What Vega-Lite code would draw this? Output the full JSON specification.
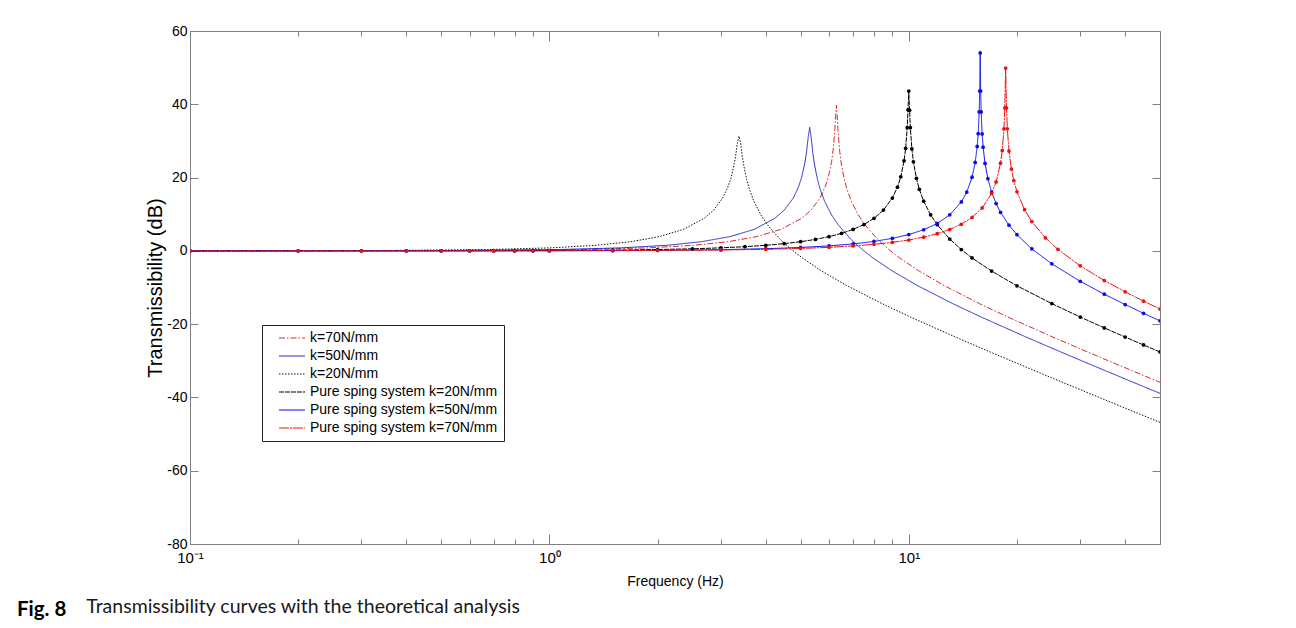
{
  "$schema": "https://vega.github.io/schema/vega-lite/v6.json",
  "autosize": {"type": "none"},
  "width": 970,
  "height": 513,
  "padding": {"left": 190, "top": 31, "right": 136, "bottom": 84},
  "background": "white",
  "config": {
    "view": {"stroke": "#808080", "strokeWidth": 1},
    "font": "Liberation Sans"
  },
  "title": {
    "text": "Fig. 8",
    "subtitle": "\u200b\u00a0\u00a0\u00a0\u00a0\u00a0\u00a0\u00a0\u00a0\u00a0\u00a0\u00a0\u00a0\u00a0\u00a0Transmissibility curves with the theoretical analysis",
    "orient": "bottom",
    "anchor": "start",
    "frame": "group",
    "dx": -173,
    "offset": 12,
    "font": "Lato",
    "fontSize": 20.5,
    "fontWeight": "bold",
    "color": "#000000",
    "subtitleFont": "Lato",
    "subtitleFontSize": 19.5,
    "subtitleFontWeight": "normal",
    "subtitleColor": "#1a1a1a",
    "subtitlePadding": -22.3
  },
  "data": {
    "values": [
      {"s": "k=70N/mm", "f": 0.1, "db": 0.0},
      {"s": "k=70N/mm", "f": 0.629, "db": 0.09},
      {"s": "k=70N/mm", "f": 1.258, "db": 0.36},
      {"s": "k=70N/mm", "f": 1.887, "db": 0.82},
      {"s": "k=70N/mm", "f": 2.516, "db": 1.51},
      {"s": "k=70N/mm", "f": 3.145, "db": 2.5},
      {"s": "k=70N/mm", "f": 3.774, "db": 3.88},
      {"s": "k=70N/mm", "f": 4.403, "db": 5.85},
      {"s": "k=70N/mm", "f": 5.032, "db": 8.87},
      {"s": "k=70N/mm", "f": 5.347, "db": 11.13},
      {"s": "k=70N/mm", "f": 5.661, "db": 14.4},
      {"s": "k=70N/mm", "f": 5.85, "db": 17.39},
      {"s": "k=70N/mm", "f": 5.976, "db": 20.2},
      {"s": "k=70N/mm", "f": 6.101, "db": 24.45},
      {"s": "k=70N/mm", "f": 6.164, "db": 27.8},
      {"s": "k=70N/mm", "f": 6.227, "db": 33.0},
      {"s": "k=70N/mm", "f": 6.259, "db": 36.9},
      {"s": "k=70N/mm", "f": 6.29, "db": 39.7},
      {"s": "k=70N/mm", "f": 6.321, "db": 36.8},
      {"s": "k=70N/mm", "f": 6.353, "db": 32.9},
      {"s": "k=70N/mm", "f": 6.416, "db": 27.6},
      {"s": "k=70N/mm", "f": 6.479, "db": 24.2},
      {"s": "k=70N/mm", "f": 6.605, "db": 19.75},
      {"s": "k=70N/mm", "f": 6.73, "db": 16.77},
      {"s": "k=70N/mm", "f": 6.919, "db": 13.56},
      {"s": "k=70N/mm", "f": 7.234, "db": 9.83},
      {"s": "k=70N/mm", "f": 7.548, "db": 7.13},
      {"s": "k=70N/mm", "f": 8.177, "db": 3.22},
      {"s": "k=70N/mm", "f": 8.806, "db": 0.36},
      {"s": "k=70N/mm", "f": 9.435, "db": -1.94},
      {"s": "k=70N/mm", "f": 10.69, "db": -5.53},
      {"s": "k=70N/mm", "f": 12.58, "db": -9.54},
      {"s": "k=70N/mm", "f": 15.73, "db": -14.4},
      {"s": "k=70N/mm", "f": 18.87, "db": -18.06},
      {"s": "k=70N/mm", "f": 25.16, "db": -23.52},
      {"s": "k=70N/mm", "f": 31.45, "db": -27.6},
      {"s": "k=70N/mm", "f": 37.74, "db": -30.88},
      {"s": "k=70N/mm", "f": 50, "db": -35.87},

      {"s": "k=50N/mm", "f": 0.1, "db": 0.0},
      {"s": "k=50N/mm", "f": 0.53, "db": 0.09},
      {"s": "k=50N/mm", "f": 1.06, "db": 0.36},
      {"s": "k=50N/mm", "f": 1.59, "db": 0.82},
      {"s": "k=50N/mm", "f": 2.12, "db": 1.51},
      {"s": "k=50N/mm", "f": 2.65, "db": 2.5},
      {"s": "k=50N/mm", "f": 3.18, "db": 3.88},
      {"s": "k=50N/mm", "f": 3.71, "db": 5.85},
      {"s": "k=50N/mm", "f": 4.24, "db": 8.87},
      {"s": "k=50N/mm", "f": 4.505, "db": 11.13},
      {"s": "k=50N/mm", "f": 4.77, "db": 14.4},
      {"s": "k=50N/mm", "f": 4.929, "db": 17.35},
      {"s": "k=50N/mm", "f": 5.035, "db": 20.1},
      {"s": "k=50N/mm", "f": 5.141, "db": 24.1},
      {"s": "k=50N/mm", "f": 5.194, "db": 27.0},
      {"s": "k=50N/mm", "f": 5.247, "db": 30.9},
      {"s": "k=50N/mm", "f": 5.3, "db": 33.7},
      {"s": "k=50N/mm", "f": 5.353, "db": 30.75},
      {"s": "k=50N/mm", "f": 5.406, "db": 26.8},
      {"s": "k=50N/mm", "f": 5.459, "db": 23.8},
      {"s": "k=50N/mm", "f": 5.565, "db": 19.7},
      {"s": "k=50N/mm", "f": 5.671, "db": 16.75},
      {"s": "k=50N/mm", "f": 5.83, "db": 13.55},
      {"s": "k=50N/mm", "f": 6.095, "db": 9.83},
      {"s": "k=50N/mm", "f": 6.36, "db": 7.13},
      {"s": "k=50N/mm", "f": 6.89, "db": 3.22},
      {"s": "k=50N/mm", "f": 7.42, "db": 0.36},
      {"s": "k=50N/mm", "f": 7.95, "db": -1.94},
      {"s": "k=50N/mm", "f": 9.01, "db": -5.53},
      {"s": "k=50N/mm", "f": 10.6, "db": -9.54},
      {"s": "k=50N/mm", "f": 13.25, "db": -14.4},
      {"s": "k=50N/mm", "f": 15.9, "db": -18.06},
      {"s": "k=50N/mm", "f": 21.2, "db": -23.52},
      {"s": "k=50N/mm", "f": 26.5, "db": -27.6},
      {"s": "k=50N/mm", "f": 31.8, "db": -30.88},
      {"s": "k=50N/mm", "f": 42.4, "db": -35.99},
      {"s": "k=50N/mm", "f": 50, "db": -38.89},

      {"s": "k=20N/mm", "f": 0.1, "db": 0.01},
      {"s": "k=20N/mm", "f": 0.337, "db": 0.09},
      {"s": "k=20N/mm", "f": 0.674, "db": 0.36},
      {"s": "k=20N/mm", "f": 1.011, "db": 0.82},
      {"s": "k=20N/mm", "f": 1.348, "db": 1.51},
      {"s": "k=20N/mm", "f": 1.685, "db": 2.5},
      {"s": "k=20N/mm", "f": 2.022, "db": 3.88},
      {"s": "k=20N/mm", "f": 2.359, "db": 5.85},
      {"s": "k=20N/mm", "f": 2.696, "db": 8.87},
      {"s": "k=20N/mm", "f": 2.865, "db": 11.13},
      {"s": "k=20N/mm", "f": 3.033, "db": 14.4},
      {"s": "k=20N/mm", "f": 3.134, "db": 17.3},
      {"s": "k=20N/mm", "f": 3.202, "db": 19.9},
      {"s": "k=20N/mm", "f": 3.269, "db": 23.8},
      {"s": "k=20N/mm", "f": 3.303, "db": 26.4},
      {"s": "k=20N/mm", "f": 3.336, "db": 29.5},
      {"s": "k=20N/mm", "f": 3.37, "db": 31.3},
      {"s": "k=20N/mm", "f": 3.404, "db": 29.4},
      {"s": "k=20N/mm", "f": 3.437, "db": 26.2},
      {"s": "k=20N/mm", "f": 3.471, "db": 23.5},
      {"s": "k=20N/mm", "f": 3.539, "db": 19.5},
      {"s": "k=20N/mm", "f": 3.606, "db": 16.7},
      {"s": "k=20N/mm", "f": 3.707, "db": 13.5},
      {"s": "k=20N/mm", "f": 3.876, "db": 9.8},
      {"s": "k=20N/mm", "f": 4.044, "db": 7.1},
      {"s": "k=20N/mm", "f": 4.381, "db": 3.2},
      {"s": "k=20N/mm", "f": 4.718, "db": 0.36},
      {"s": "k=20N/mm", "f": 5.055, "db": -1.94},
      {"s": "k=20N/mm", "f": 5.729, "db": -5.53},
      {"s": "k=20N/mm", "f": 6.74, "db": -9.54},
      {"s": "k=20N/mm", "f": 8.425, "db": -14.4},
      {"s": "k=20N/mm", "f": 10.11, "db": -18.06},
      {"s": "k=20N/mm", "f": 13.48, "db": -23.52},
      {"s": "k=20N/mm", "f": 16.85, "db": -27.6},
      {"s": "k=20N/mm", "f": 20.22, "db": -30.88},
      {"s": "k=20N/mm", "f": 26.96, "db": -35.99},
      {"s": "k=20N/mm", "f": 33.7, "db": -39.91},
      {"s": "k=20N/mm", "f": 40.44, "db": -43.11},
      {"s": "k=20N/mm", "f": 50, "db": -46.81},

      {"s": "Pure sping system k=20N/mm", "f": 0.1, "db": 0.0},
      {"s": "Pure sping system k=20N/mm", "f": 0.2, "db": 0.0},
      {"s": "Pure sping system k=20N/mm", "f": 0.3, "db": 0.01},
      {"s": "Pure sping system k=20N/mm", "f": 0.4, "db": 0.01},
      {"s": "Pure sping system k=20N/mm", "f": 0.5, "db": 0.02},
      {"s": "Pure sping system k=20N/mm", "f": 0.6, "db": 0.03},
      {"s": "Pure sping system k=20N/mm", "f": 0.7, "db": 0.04},
      {"s": "Pure sping system k=20N/mm", "f": 0.8, "db": 0.06},
      {"s": "Pure sping system k=20N/mm", "f": 0.9, "db": 0.07},
      {"s": "Pure sping system k=20N/mm", "f": 1.0, "db": 0.09},
      {"s": "Pure sping system k=20N/mm", "f": 1.5, "db": 0.2},
      {"s": "Pure sping system k=20N/mm", "f": 2.0, "db": 0.36},
      {"s": "Pure sping system k=20N/mm", "f": 2.5, "db": 0.56},
      {"s": "Pure sping system k=20N/mm", "f": 3.0, "db": 0.82},
      {"s": "Pure sping system k=20N/mm", "f": 3.5, "db": 1.14},
      {"s": "Pure sping system k=20N/mm", "f": 4.0, "db": 1.51},
      {"s": "Pure sping system k=20N/mm", "f": 4.5, "db": 1.97},
      {"s": "Pure sping system k=20N/mm", "f": 5.0, "db": 2.5},
      {"s": "Pure sping system k=20N/mm", "f": 5.5, "db": 3.13},
      {"s": "Pure sping system k=20N/mm", "f": 6.0, "db": 3.88},
      {"s": "Pure sping system k=20N/mm", "f": 6.5, "db": 4.77},
      {"s": "Pure sping system k=20N/mm", "f": 7.0, "db": 5.85},
      {"s": "Pure sping system k=20N/mm", "f": 7.5, "db": 7.18},
      {"s": "Pure sping system k=20N/mm", "f": 8.0, "db": 8.87},
      {"s": "Pure sping system k=20N/mm", "f": 8.5, "db": 11.13},
      {"s": "Pure sping system k=20N/mm", "f": 9.0, "db": 14.42},
      {"s": "Pure sping system k=20N/mm", "f": 9.3, "db": 17.39},
      {"s": "Pure sping system k=20N/mm", "f": 9.5, "db": 20.22},
      {"s": "Pure sping system k=20N/mm", "f": 9.7, "db": 24.57},
      {"s": "Pure sping system k=20N/mm", "f": 9.8, "db": 28.0},
      {"s": "Pure sping system k=20N/mm", "f": 9.9, "db": 33.6},
      {"s": "Pure sping system k=20N/mm", "f": 9.95, "db": 38.5},
      {"s": "Pure sping system k=20N/mm", "f": 10.0, "db": 43.6},
      {"s": "Pure sping system k=20N/mm", "f": 10.05, "db": 38.4},
      {"s": "Pure sping system k=20N/mm", "f": 10.1, "db": 33.6},
      {"s": "Pure sping system k=20N/mm", "f": 10.2, "db": 27.8},
      {"s": "Pure sping system k=20N/mm", "f": 10.3, "db": 24.3},
      {"s": "Pure sping system k=20N/mm", "f": 10.5, "db": 19.79},
      {"s": "Pure sping system k=20N/mm", "f": 10.7, "db": 16.78},
      {"s": "Pure sping system k=20N/mm", "f": 11.0, "db": 13.56},
      {"s": "Pure sping system k=20N/mm", "f": 11.5, "db": 9.83},
      {"s": "Pure sping system k=20N/mm", "f": 12.0, "db": 7.13},
      {"s": "Pure sping system k=20N/mm", "f": 13.0, "db": 3.22},
      {"s": "Pure sping system k=20N/mm", "f": 14.0, "db": 0.36},
      {"s": "Pure sping system k=20N/mm", "f": 15.0, "db": -1.94},
      {"s": "Pure sping system k=20N/mm", "f": 17.0, "db": -5.53},
      {"s": "Pure sping system k=20N/mm", "f": 20.0, "db": -9.54},
      {"s": "Pure sping system k=20N/mm", "f": 25.0, "db": -14.4},
      {"s": "Pure sping system k=20N/mm", "f": 30.0, "db": -18.06},
      {"s": "Pure sping system k=20N/mm", "f": 35.0, "db": -21.02},
      {"s": "Pure sping system k=20N/mm", "f": 40.0, "db": -23.52},
      {"s": "Pure sping system k=20N/mm", "f": 45.0, "db": -25.69},
      {"s": "Pure sping system k=20N/mm", "f": 50.0, "db": -27.6},

      {"s": "Pure sping system k=50N/mm", "f": 0.1, "db": 0.0},
      {"s": "Pure sping system k=50N/mm", "f": 0.2, "db": 0.0},
      {"s": "Pure sping system k=50N/mm", "f": 0.3, "db": 0.0},
      {"s": "Pure sping system k=50N/mm", "f": 0.4, "db": 0.01},
      {"s": "Pure sping system k=50N/mm", "f": 0.5, "db": 0.01},
      {"s": "Pure sping system k=50N/mm", "f": 0.6, "db": 0.01},
      {"s": "Pure sping system k=50N/mm", "f": 0.7, "db": 0.02},
      {"s": "Pure sping system k=50N/mm", "f": 0.8, "db": 0.02},
      {"s": "Pure sping system k=50N/mm", "f": 0.9, "db": 0.03},
      {"s": "Pure sping system k=50N/mm", "f": 1.0, "db": 0.03},
      {"s": "Pure sping system k=50N/mm", "f": 1.5, "db": 0.08},
      {"s": "Pure sping system k=50N/mm", "f": 2.0, "db": 0.14},
      {"s": "Pure sping system k=50N/mm", "f": 3.0, "db": 0.32},
      {"s": "Pure sping system k=50N/mm", "f": 4.0, "db": 0.58},
      {"s": "Pure sping system k=50N/mm", "f": 5.0, "db": 0.92},
      {"s": "Pure sping system k=50N/mm", "f": 6.0, "db": 1.35},
      {"s": "Pure sping system k=50N/mm", "f": 7.0, "db": 1.9},
      {"s": "Pure sping system k=50N/mm", "f": 8.0, "db": 2.57},
      {"s": "Pure sping system k=50N/mm", "f": 9.0, "db": 3.41},
      {"s": "Pure sping system k=50N/mm", "f": 10.0, "db": 4.45},
      {"s": "Pure sping system k=50N/mm", "f": 11.0, "db": 5.76},
      {"s": "Pure sping system k=50N/mm", "f": 12.0, "db": 7.47},
      {"s": "Pure sping system k=50N/mm", "f": 13.0, "db": 9.82},
      {"s": "Pure sping system k=50N/mm", "f": 14.0, "db": 13.36},
      {"s": "Pure sping system k=50N/mm", "f": 14.5, "db": 16.04},
      {"s": "Pure sping system k=50N/mm", "f": 15.0, "db": 20.11},
      {"s": "Pure sping system k=50N/mm", "f": 15.3, "db": 24.12},
      {"s": "Pure sping system k=50N/mm", "f": 15.5, "db": 28.5},
      {"s": "Pure sping system k=50N/mm", "f": 15.6, "db": 31.97},
      {"s": "Pure sping system k=50N/mm", "f": 15.7, "db": 37.9},
      {"s": "Pure sping system k=50N/mm", "f": 15.75, "db": 43.6},
      {"s": "Pure sping system k=50N/mm", "f": 15.8, "db": 54.0},
      {"s": "Pure sping system k=50N/mm", "f": 15.85, "db": 43.6},
      {"s": "Pure sping system k=50N/mm", "f": 15.9, "db": 37.9},
      {"s": "Pure sping system k=50N/mm", "f": 16.0, "db": 31.9},
      {"s": "Pure sping system k=50N/mm", "f": 16.1, "db": 28.3},
      {"s": "Pure sping system k=50N/mm", "f": 16.3, "db": 23.85},
      {"s": "Pure sping system k=50N/mm", "f": 16.6, "db": 19.68},
      {"s": "Pure sping system k=50N/mm", "f": 17.0, "db": 16.04},
      {"s": "Pure sping system k=50N/mm", "f": 17.5, "db": 12.89},
      {"s": "Pure sping system k=50N/mm", "f": 18.0, "db": 10.52},
      {"s": "Pure sping system k=50N/mm", "f": 19.0, "db": 7.01},
      {"s": "Pure sping system k=50N/mm", "f": 20.0, "db": 4.4},
      {"s": "Pure sping system k=50N/mm", "f": 22.0, "db": 0.55},
      {"s": "Pure sping system k=50N/mm", "f": 25.0, "db": -3.54},
      {"s": "Pure sping system k=50N/mm", "f": 30.0, "db": -8.32},
      {"s": "Pure sping system k=50N/mm", "f": 35.0, "db": -11.84},
      {"s": "Pure sping system k=50N/mm", "f": 40.0, "db": -14.66},
      {"s": "Pure sping system k=50N/mm", "f": 45.0, "db": -17.04},
      {"s": "Pure sping system k=50N/mm", "f": 50.0, "db": -19.1},

      {"s": "Pure sping system k=70N/mm", "f": 0.1, "db": 0.0},
      {"s": "Pure sping system k=70N/mm", "f": 0.2, "db": 0.0},
      {"s": "Pure sping system k=70N/mm", "f": 0.3, "db": 0.0},
      {"s": "Pure sping system k=70N/mm", "f": 0.4, "db": 0.0},
      {"s": "Pure sping system k=70N/mm", "f": 0.5, "db": 0.01},
      {"s": "Pure sping system k=70N/mm", "f": 0.6, "db": 0.01},
      {"s": "Pure sping system k=70N/mm", "f": 0.7, "db": 0.01},
      {"s": "Pure sping system k=70N/mm", "f": 0.8, "db": 0.02},
      {"s": "Pure sping system k=70N/mm", "f": 0.9, "db": 0.02},
      {"s": "Pure sping system k=70N/mm", "f": 1.0, "db": 0.03},
      {"s": "Pure sping system k=70N/mm", "f": 1.5, "db": 0.06},
      {"s": "Pure sping system k=70N/mm", "f": 2.0, "db": 0.1},
      {"s": "Pure sping system k=70N/mm", "f": 3.0, "db": 0.23},
      {"s": "Pure sping system k=70N/mm", "f": 4.0, "db": 0.41},
      {"s": "Pure sping system k=70N/mm", "f": 5.0, "db": 0.65},
      {"s": "Pure sping system k=70N/mm", "f": 6.0, "db": 0.96},
      {"s": "Pure sping system k=70N/mm", "f": 7.0, "db": 1.33},
      {"s": "Pure sping system k=70N/mm", "f": 8.0, "db": 1.78},
      {"s": "Pure sping system k=70N/mm", "f": 9.0, "db": 2.32},
      {"s": "Pure sping system k=70N/mm", "f": 10.0, "db": 2.96},
      {"s": "Pure sping system k=70N/mm", "f": 11.0, "db": 3.74},
      {"s": "Pure sping system k=70N/mm", "f": 12.0, "db": 4.68},
      {"s": "Pure sping system k=70N/mm", "f": 13.0, "db": 5.82},
      {"s": "Pure sping system k=70N/mm", "f": 14.0, "db": 7.26},
      {"s": "Pure sping system k=70N/mm", "f": 15.0, "db": 9.13},
      {"s": "Pure sping system k=70N/mm", "f": 16.0, "db": 11.7},
      {"s": "Pure sping system k=70N/mm", "f": 17.0, "db": 15.67},
      {"s": "Pure sping system k=70N/mm", "f": 17.5, "db": 18.8},
      {"s": "Pure sping system k=70N/mm", "f": 18.0, "db": 23.94},
      {"s": "Pure sping system k=70N/mm", "f": 18.2, "db": 27.42},
      {"s": "Pure sping system k=70N/mm", "f": 18.4, "db": 33.3},
      {"s": "Pure sping system k=70N/mm", "f": 18.5, "db": 39.0},
      {"s": "Pure sping system k=70N/mm", "f": 18.6, "db": 49.9},
      {"s": "Pure sping system k=70N/mm", "f": 18.7, "db": 39.0},
      {"s": "Pure sping system k=70N/mm", "f": 18.8, "db": 33.3},
      {"s": "Pure sping system k=70N/mm", "f": 19.0, "db": 27.24},
      {"s": "Pure sping system k=70N/mm", "f": 19.3, "db": 22.31},
      {"s": "Pure sping system k=70N/mm", "f": 19.6, "db": 19.14},
      {"s": "Pure sping system k=70N/mm", "f": 20.0, "db": 16.13},
      {"s": "Pure sping system k=70N/mm", "f": 21.0, "db": 11.22},
      {"s": "Pure sping system k=70N/mm", "f": 22.0, "db": 7.98},
      {"s": "Pure sping system k=70N/mm", "f": 24.0, "db": 3.54},
      {"s": "Pure sping system k=70N/mm", "f": 26.0, "db": 0.41},
      {"s": "Pure sping system k=70N/mm", "f": 30.0, "db": -4.09},
      {"s": "Pure sping system k=70N/mm", "f": 35.0, "db": -8.1},
      {"s": "Pure sping system k=70N/mm", "f": 40.0, "db": -11.19},
      {"s": "Pure sping system k=70N/mm", "f": 45.0, "db": -13.72},
      {"s": "Pure sping system k=70N/mm", "f": 50.0, "db": -15.88}
    ]
  },
  "layer": [
    {
      "mark": {"type": "line", "clip": true},
      "encoding": {
        "x": {
          "field": "f", "type": "quantitative",
          "scale": {"type": "log", "domain": [0.1, 50]},
          "axis": {
            "orient": "bottom",
            "values": [0.1, 0.2, 0.3, 0.4, 0.5, 0.6, 0.7, 0.8, 0.9, 1, 2, 3, 4, 5, 6, 7, 8, 9, 10, 20, 30, 40],
            "labelExpr": "datum.value == 0.1 ? '10⁻¹' : datum.value == 1 ? '10⁰' : datum.value == 10 ? '10¹' : ''",
            "tickSize": {"condition": {"test": "datum.value == 0.1 || datum.value == 1 || datum.value == 10", "value": -10}, "value": -5},
            "labelPadding": 16,
            "labelFlush": false,
            "labelOverlap": false,
            "grid": false,
            "domainColor": "#808080",
            "tickColor": "#808080",
            "labelFont": "Liberation Sans",
            "labelFontSize": 15,
            "labelColor": "#000000",
            "title": "Frequency (Hz)",
            "titleFont": "Liberation Sans",
            "titleFontSize": 14,
            "titleFontWeight": "normal",
            "titleColor": "#000000",
            "titlePadding": 4
          }
        },
        "y": {
          "field": "db", "type": "quantitative",
          "scale": {"domain": [-80, 60], "nice": false, "zero": false},
          "axis": {
            "orient": "left",
            "values": [-80, -60, -40, -20, 0, 20, 40, 60],
            "labelExpr": "datum.value + ''",
            "tickSize": -8,
            "labelPadding": 11,
            "grid": false,
            "domainColor": "#808080",
            "tickColor": "#808080",
            "labelFont": "Liberation Sans",
            "labelFontSize": 14,
            "labelColor": "#000000",
            "title": "Transmissibility (dB)",
            "titleFont": "Liberation Sans",
            "titleFontSize": 20,
            "titleFontWeight": "normal",
            "titleColor": "#000000",
            "titlePadding": 1
          }
        },
        "color": {
          "field": "s", "type": "nominal",
          "scale": {
            "domain": ["k=70N/mm", "k=50N/mm", "k=20N/mm", "Pure sping system k=20N/mm", "Pure sping system k=50N/mm", "Pure sping system k=70N/mm"],
            "range": ["#d42a2a", "#2b2bc4", "#111111", "#000000", "#0a0aee", "#ee1111"]
          },
          "legend": {
            "orient": "none", "legendX": 72, "legendY": 294, "title": null,
            "strokeColor": "#222222", "fillColor": "#ffffff", "padding": 6,
            "symbolType": "M -2.6 0 H 2.6", "symbolSize": 100, "symbolStrokeWidth": 1.2,
            "symbolOffset": 17, "labelOffset": 11,
            "labelFont": "Liberation Sans", "labelFontSize": 14, "labelColor": "#000000",
            "rowPadding": 4.0, "labelLimit": 400
          }
        },
        "strokeDash": {
          "field": "s", "type": "nominal",
          "scale": {
            "domain": ["k=70N/mm", "k=50N/mm", "k=20N/mm", "Pure sping system k=20N/mm", "Pure sping system k=50N/mm", "Pure sping system k=70N/mm"],
            "range": [[6, 2, 1.5, 2], [1, 0], [1.5, 1.5], [5, 1], [1, 0], [10, 1, 2, 1]]
          },
          "legend": {
            "orient": "none", "legendX": 72, "legendY": 294, "title": null,
            "strokeColor": "#222222", "fillColor": "#ffffff", "padding": 6,
            "symbolType": "M -2.6 0 H 2.6", "symbolSize": 100, "symbolStrokeWidth": 1.2,
            "symbolOffset": 17, "labelOffset": 11,
            "labelFont": "Liberation Sans", "labelFontSize": 14, "labelColor": "#000000",
            "rowPadding": 4.0, "labelLimit": 400
          }
        },
        "strokeWidth": {
          "field": "s", "type": "nominal",
          "scale": {
            "domain": ["k=70N/mm", "k=50N/mm", "k=20N/mm", "Pure sping system k=20N/mm", "Pure sping system k=50N/mm", "Pure sping system k=70N/mm"],
            "range": [1, 1, 1, 3.2, 3.2, 3.2]
          },
          "legend": null
        }
      }
    },
    {
      "transform": [{"filter": {"field": "s", "oneOf": ["Pure sping system k=20N/mm", "Pure sping system k=50N/mm", "Pure sping system k=70N/mm"]}}],
      "mark": {"type": "point", "filled": true, "size": 14, "opacity": 1, "clip": true},
      "encoding": {
        "x": {
          "field": "f", "type": "quantitative",
          "scale": {"type": "log", "domain": [0.1, 50]},
          "axis": {
            "orient": "top",
            "values": [0.1, 0.2, 0.3, 0.4, 0.5, 0.6, 0.7, 0.8, 0.9, 1, 2, 3, 4, 5, 6, 7, 8, 9, 10, 20, 30, 40],
            "labels": false,
            "domain": false,
            "title": null,
            "grid": false,
            "tickColor": "#808080",
            "tickSize": {"condition": {"test": "datum.value == 0.1 || datum.value == 1 || datum.value == 10", "value": -10}, "value": -5}
          }
        },
        "y": {
          "field": "db", "type": "quantitative",
          "scale": {"domain": [-80, 60], "nice": false, "zero": false},
          "axis": {
            "orient": "right",
            "values": [-80, -60, -40, -20, 0, 20, 40, 60],
            "labels": false,
            "domain": false,
            "title": null,
            "grid": false,
            "tickColor": "#808080",
            "tickSize": -8
          }
        },
        "color": {
          "field": "s", "type": "nominal",
          "scale": {
            "domain": ["k=70N/mm", "k=50N/mm", "k=20N/mm", "Pure sping system k=20N/mm", "Pure sping system k=50N/mm", "Pure sping system k=70N/mm"],
            "range": ["#d42a2a", "#2b2bc4", "#111111", "#000000", "#0a0aee", "#ee1111"]
          },
          "legend": null
        }
      }
    }
  ],
  "resolve": {"axis": {"x": "independent", "y": "independent"}}
}
